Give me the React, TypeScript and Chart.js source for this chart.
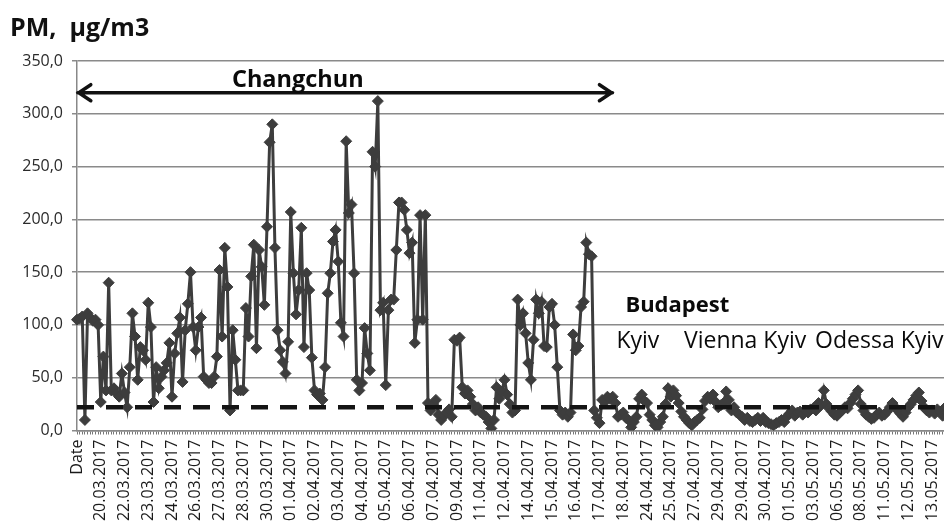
import React, { useEffect, useRef } from "react";
import { Chart, registerables } from "chart.js";

Chart.register(...registerables);

// Tick labels shown every 9th measurement on the category axis
const tickLabels = [
  "Date", "20.03.2017", "22.03.2017", "23.03.2017", "24.03.2017", "26.03.2017",
  "27.03.2017", "28.03.2017", "30.03.2017", "01.04.2017", "02.04.2017", "03.04.2017",
  "04.04.2017", "05.04.2017", "06.04.2017", "07.04.2017", "09.04.2017", "11.04.2017",
  "12.04.2017", "14.04.2017", "15.04.2017", "16.04.2017", "17.04.2017", "18.04.2017",
  "24.04.2017", "25.04.2017", "27.04.2017", "29.04.2017", "29.04.2017", "30.04.2017",
  "01.05.2017", "03.05.2017", "06.05.2017", "08.05.2017", "11.05.2017", "12.05.2017",
  "13.05.2017",
];
const labelEvery = 9;

// PM concentration, µg/m3 (one value per measurement)
const pmValues = [
  105, 106, 108, 10, 111, 107, 104, 105, 100, 27,
  70, 38, 140, 38, 40, 35, 32, 54, 36, 22,
  60, 111, 89, 48, 79, 76, 67, 121, 98, 27,
  60, 40, 51, 57, 64, 83, 32, 73, 92, 107,
  46, 95, 120, 150, 98, 76, 98, 107, 51, 48,
  45, 45, 51, 70, 152, 89, 173, 136, 19, 95,
  67, 38, 38, 38, 116, 89, 146, 176, 78, 171,
  155, 119, 193, 273, 290, 173, 95, 76, 65, 54,
  84, 207, 149, 110, 133, 192, 79, 149, 133, 69,
  38, 34, 35, 29, 60, 130, 149, 179, 190, 160,
  102, 89, 274, 206, 214, 149, 48, 38, 45, 97,
  73, 57, 264, 250, 312, 114, 121, 43, 114, 124,
  124, 171, 216, 216, 209, 190, 168, 178, 83, 105,
  204, 105, 204, 26, 19, 25, 29, 15, 10, 14,
  17, 20, 13, 86, 85, 88, 41, 35, 38, 32,
  25, 19, 22, 17, 15, 13, 8, 2, 10, 41,
  30, 37, 48, 34, 25, 17, 19, 124, 100, 111,
  92, 64, 48, 86, 124, 111, 122, 80, 79, 117,
  120, 100, 60, 19, 15, 17, 13, 17, 91, 76,
  80, 117, 122, 178, 167, 165, 19, 12, 7, 29,
  27, 32, 30, 32, 26, 13, 15, 17, 12, 10,
  3, 8, 13, 30, 34, 28, 26, 15, 10, 5,
  3, 8, 13, 25, 40, 32, 38, 33, 26, 18,
  13, 10, 7, 5, 8, 10, 12, 20, 28, 32,
  30, 34, 27, 22, 24, 26, 37, 29, 19, 22,
  17, 15, 13, 10, 12, 9, 8, 10, 12, 9,
  12, 8, 7, 6, 5, 7, 8, 10, 8, 13,
  16, 19, 14, 17, 18, 15, 19, 17, 20, 21,
  19, 26, 24, 38, 25, 21, 18, 15, 14, 17,
  19, 22, 21, 26, 30, 34, 38, 25, 19, 15,
  13, 11, 12, 15, 17, 14, 15, 18, 22, 26,
  22, 19, 16, 13, 17, 22, 25, 29, 33, 36,
  28, 22, 19, 17, 19, 16, 20, 18, 14, 22,
  17, 15,
];

const limitValue = 22;
const yTicks = [0, 50, 100, 150, 200, 250, 300, 350];

// City annotations: [text, category index of left edge, value at baseline, bold, font size]
const cityTexts: [string, number, number, boolean, number][] = [
  ["Changchun", 58.7, 325, true, 23.5],
  ["Budapest", 207.8, 112, true, 22],
  ["Kyiv", 204.4, 78, false, 23],
  ["Vienna Kyiv", 230, 78, false, 23],
  ["Odessa Kyiv", 279.7, 78, false, 23],
];
const arrowFrom = 0.3;
const arrowTo = 202.9;
const arrowValue = 320;

const categories = pmValues.map((_, i) =>
  i % labelEvery === 0 ? tickLabels[i / labelEvery] ?? "" : ""
);

const FONT = "'Open Sans', 'DejaVu Sans', sans-serif";
const SERIES_COLOR = "#3d3d3d";

const overlayPlugin = {
  id: "overlay",
  afterDatasetsDraw(chart: any) {
    const { ctx, chartArea, scales } = chart;
    const y = scales.y;
    const yy = y.getPixelForValue(limitValue);
    ctx.save();
    ctx.setLineDash([17, 12]);
    ctx.lineWidth = 4.5;
    ctx.strokeStyle = "#141414";
    ctx.beginPath();
    ctx.moveTo(chartArea.left, yy);
    ctx.lineTo(chartArea.right, yy);
    ctx.stroke();
    ctx.restore();
  },
  afterDraw(chart: any) {
    const { ctx, scales } = chart;
    const x = scales.x;
    const y = scales.y;
    ctx.save();
    // title
    ctx.fillStyle = "#111";
    ctx.font = `bold 25px ${FONT}`;
    ctx.textBaseline = "alphabetic";
    ctx.textAlign = "left";
    ctx.fillText("PM,  µg/m3", 10, 36);

    // double arrow
    const ay = y.getPixelForValue(arrowValue);
    const x1 = x.getPixelForValue(arrowFrom);
    const x2 = x.getPixelForValue(arrowTo);
    ctx.strokeStyle = "#111";
    ctx.lineWidth = 3.5;
    ctx.lineCap = "round";
    ctx.beginPath();
    ctx.moveTo(x1, ay);
    ctx.lineTo(x2, ay);
    ctx.moveTo(x1 + 13, ay - 8);
    ctx.lineTo(x1 + 1, ay);
    ctx.lineTo(x1 + 13, ay + 8);
    ctx.moveTo(x2 - 13, ay - 8);
    ctx.lineTo(x2 - 1, ay);
    ctx.lineTo(x2 - 13, ay + 8);
    ctx.stroke();

    // city labels
    for (const [text, idx, val, bold, size] of cityTexts) {
      ctx.font = `${bold ? "bold " : ""}${size}px ${FONT}`;
      ctx.fillStyle = "#0a0a0a";
      ctx.fillText(text, x.getPixelForValue(idx), y.getPixelForValue(val));
    }
    ctx.restore();
  },
};

export default function App() {
  const canvasRef = useRef<HTMLCanvasElement | null>(null);

  useEffect(() => {
    const canvas = canvasRef.current;
    if (!canvas) return;
    const chart = new Chart(canvas, {
      type: "line",
      data: {
        labels: categories,
        datasets: [
          {
            data: pmValues,
            borderColor: SERIES_COLOR,
            backgroundColor: SERIES_COLOR,
            borderWidth: 3,
            pointStyle: "rectRot",
            pointRadius: 5.5,
            pointBackgroundColor: SERIES_COLOR,
            pointBorderColor: SERIES_COLOR,
            pointBorderWidth: 1,
            tension: 0,
            fill: false,
          },
        ],
      },
      options: {
        responsive: false,
        devicePixelRatio: 1,
        animation: false,
        layout: { padding: { top: 61, left: 0, right: 0, bottom: 0 } },
        plugins: {
          legend: { display: false },
          title: { display: false },
          tooltip: { enabled: false },
        },
        scales: {
          x: {
            type: "category",
            offset: false,
            grid: {
              display: true,
              drawOnChartArea: false,
              drawTicks: true,
              tickLength: 4,
              color: "#777",
              lineWidth: 1,
            },
            border: { display: true, color: "#888", width: 1.5 },
            ticks: {
              autoSkip: false,
              maxRotation: 90,
              minRotation: 90,
              padding: 5,
              color: "#1a1a1a",
              font: { family: FONT, size: 16 },
            },
            afterFit(scale: any) {
              scale.height = 91.5;
              scale.paddingLeft = 0;
              scale.paddingRight = 0;
            },
          },
          y: {
            min: 0,
            max: 350,
            afterBuildTicks(scale: any) {
              scale.ticks = yTicks.map((v) => ({ value: v }));
            },
            grid: {
              color: "#8a8a8a",
              lineWidth: 1.5,
              drawTicks: true,
              tickLength: 5,
            },
            border: { display: true, color: "#888", width: 1.5 },
            ticks: {
              padding: 9,
              color: "#2a2a2a",
              font: { family: FONT, size: 16 },
              callback: (v: any) => Number(v).toFixed(1).replace(".", ","),
            },
            afterFit(scale: any) {
              scale.width = 77;
              scale.paddingTop = 0;
              scale.paddingBottom = 0;
            },
          },
        },
      },
      plugins: [overlayPlugin],
    });
    return () => chart.destroy();
  }, []);

  return (
    <div
      style={{
        position: "fixed",
        left: 0,
        top: 0,
        width: 944,
        height: 522,
        overflow: "hidden",
        background: "#fff",
      }}
    >
      <canvas ref={canvasRef} width={957} height={522} style={{ display: "block" }} />
    </div>
  );
}
